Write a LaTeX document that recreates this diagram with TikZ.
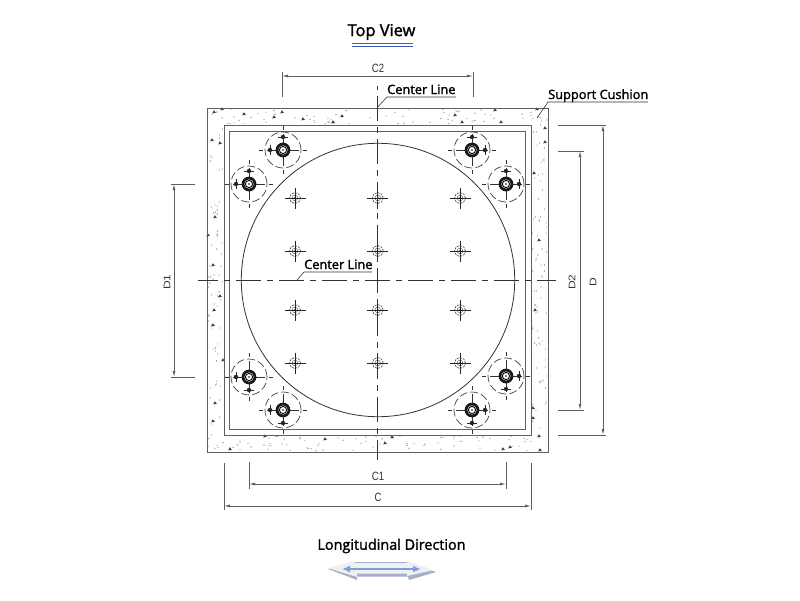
\documentclass[tikz,border=0pt]{standalone}
\usepackage{fontspec}
\setmainfont[FakeBold=1.6]{Open Sans}
\newfontfamily\dimfont{Liberation Sans}
\usetikzlibrary{arrows.meta}
\definecolor{linegrey}{RGB}{95,95,95}
\definecolor{arrowblue}{RGB}{120,160,225}
\definecolor{arrowshade}{RGB}{165,175,205}
\definecolor{arrowface}{RGB}{240,240,240}
\definecolor{rulerblue}{RGB}{60,90,190}
\tikzset{
	wall/.style={draw=linegrey,line width=1pt},
	centerline/.style={draw=black!80,line width=0.7pt,dash pattern=on 25pt off 6pt on 6pt off 6pt},
	dimline/.style={draw=linegrey,line width=0.8pt,{Latex[length=6pt,width=3pt]}-{Latex[length=6pt,width=3pt]}},
	extline/.style={draw=linegrey,line width=1pt},
	leader/.style={draw=black!80,line width=0.6pt},
	dimlabel/.style={font=\dimfont\fontsize{12}{12}\selectfont,xscale=0.8,text=black!80,inner sep=0pt},
	callout/.style={font=\fontsize{12.8}{13}\selectfont,text=black,inner sep=0pt,anchor=base west},
	heading/.style={font=\fontsize{14.4}{15}\selectfont,text=black,inner sep=0pt},
	holedash/.style={draw=black!75,line width=0.7pt,dash pattern=on 8pt off 3pt}
}
% anchor bolt in the corner of the plate, #1 #2 centre, #3 #4 side of the small studs
\newcommand{\anchorbolt}[4]{
	\draw[holedash] (#1,#2) circle (18pt);
	\draw[black!80,line width=0.6pt] (#1-24,#2) -- (#1-20,#2) (#1-16,#2) -- (#1+16,#2) (#1+20,#2) -- (#1+24,#2)
		(#1,#2-24) -- (#1,#2-20) (#1,#2-16) -- (#1,#2+16) (#1,#2+20) -- (#1,#2+24);
	\fill[black!85] (#1+#3*13,#2) circle (2.2pt) (#1,#2+#4*13) circle (2.2pt);
	\draw[black!85,line width=0.6pt] (#1+#3*13,#2-5) -- (#1+#3*13,#2+5) (#1-5,#2+#4*13) -- (#1+5,#2+#4*13);
	\fill[black!90] (#1,#2) circle (7.4pt);
	\fill[white] (#1,#2) circle (4.6pt);
	\draw[black,line width=0.9pt] (#1,#2) circle (3.6pt);
	\fill[black] (#1,#2) circle (0.8pt);
}
% small stud on the circular plate
\newcommand{\platestud}[2]{
	\draw[black!75,line width=0.6pt,dash pattern=on 2.2pt off 1pt] (#1,#2) circle (5.5pt);
	\draw[black!65,line width=0.5pt] (#1,#2) circle (2.8pt);
	\draw[black!85,line width=0.6pt] (#1-10.5,#2) -- (#1+10.5,#2) (#1,#2-10.5) -- (#1,#2+10.5);
	\fill[black] (#1,#2) circle (0.8pt);
}
\begin{document}
\begin{tikzpicture}[x=1pt,y=-1pt]
	\useasboundingbox (0,0) rectangle (800,600);
	\fill[white] (0,0) rectangle (800,600);
	\pgfmathsetseed{41}
	%concrete speckle
	\foreach \i in {1,...,300}{
		\pgfmathsetmacro{\spos}{random(0,1352)}
		\pgfmathsetmacro{\sdep}{rnd*15+1}
		\pgfmathsetmacro{\sx}{\spos<341 ? 207+\spos : (\spos<682 ? 531+\sdep : (\spos<1023 ? 207+\spos-682 : 207+\sdep))}
		\pgfmathsetmacro{\sy}{\spos<341 ? 108+\sdep : (\spos<682 ? 108+\spos-341 : (\spos<1023 ? 435+\sdep : 108+\spos-1023))}
		\fill[black!60] (\sx,\sy) circle (0.55pt);
	}
	%concrete aggregate
	\foreach \ax/\ay in {214/112,222/109,244/114,274/117,282/112,303/119,333/122,342/116,
		455/115,462/122,501/122,495/110,537/109,545/128,545/142,534/173,533/408,533/418,
		539/436,540/450,510/447,503/449,265/436,325/439,392/437,385/443,230/449,215/403,
		213/421,223/360,212/140,220/143,215/217,208/235,213/265,220/296,214/310,213/325,
		535/310,539/240}{
		\fill[black!75] (\ax-1.8,\ay+1.4) -- (\ax+1.8,\ay+0.8) -- (\ax-0.2,\ay-1.8) -- cycle;
	}
	%slab, cushion, plate
	\draw[wall] (207,108) rectangle (548,452);
	\draw[wall] (224,125) rectangle (531,435);
	\draw[wall] (229.5,131) rectangle (525,429);
	\draw[black!80,line width=0.8pt] (378,280) circle (136.7pt);
	%plate studs
	\foreach \sy in {198,251,310,363}{
		\foreach \sx in {295,377.7,460}{
			\platestud{\sx}{\sy}
		}
	}
	%center lines
	\draw[centerline,dash phase=33pt] (377.7,86) -- (377.7,460);
	\draw[centerline,dash phase=5pt] (198,280) -- (556,280);
	%anchor bolts
	\anchorbolt{283}{150}{-1}{-1}
	\anchorbolt{249}{184}{-1}{-1}
	\anchorbolt{472}{150}{1}{-1}
	\anchorbolt{506}{184}{1}{-1}
	\anchorbolt{249}{377}{-1}{1}
	\anchorbolt{283}{410}{-1}{1}
	\anchorbolt{506}{376}{1}{1}
	\anchorbolt{472}{410}{1}{1}
	%dimension C2
	\coordinate (ctwoL) at (282,76);
	\coordinate (ctwoR) at (473,76);
	\draw[extline] (282,72) -- (282,97);
	\draw[extline] (473,72) -- (473,97);
	\draw[dimline] (ctwoL) -- (ctwoR);
	\node[dimlabel] (ctwolabel) at (378,68) {C2};
	%dimension C1
	\coordinate (coneL) at (249,484);
	\coordinate (coneR) at (506,484);
	\draw[extline] (249,462) -- (249,489);
	\draw[extline] (506,462) -- (506,489);
	\draw[dimline] (coneL) -- (coneR);
	\node[dimlabel] (conelabel) at (378,476) {C1};
	%dimension C
	\coordinate (cL) at (224,506);
	\coordinate (cR) at (531,506);
	\draw[extline] (224,463) -- (224,510);
	\draw[extline] (531,463) -- (531,510);
	\draw[dimline] (cL) -- (cR);
	\node[dimlabel] (clabel) at (378,497) {C};
	%dimension D1
	\coordinate (doneT) at (174,184);
	\coordinate (doneB) at (174,377);
	\draw[extline] (171,184) -- (195,184);
	\draw[extline] (171,377) -- (195,377);
	\draw[dimline] (doneT) -- (doneB);
	\node[dimlabel,rotate=90] (donelabel) at (167,282) {D1};
	%dimension D2
	\coordinate (dtwoT) at (580,151);
	\coordinate (dtwoB) at (580,410);
	\draw[extline] (558,151) -- (584,151);
	\draw[extline] (558,410) -- (584,410);
	\draw[dimline] (dtwoT) -- (dtwoB);
	\node[dimlabel,rotate=90] (dtwolabel) at (572,282) {D2};
	%dimension D
	\coordinate (dT) at (603,125);
	\coordinate (dB) at (603,435);
	\draw[extline] (558,125) -- (606,125);
	\draw[extline] (558,435) -- (606,435);
	\draw[dimline] (dT) -- (dB);
	\node[dimlabel,rotate=90] (dlabel) at (593,282) {D};
	%callouts
	\node[callout] (ctop) at (387,94) {Center Line};
	\draw[leader] (456,97) -- (387,97) -- (377.7,107);
	\node[callout] (cushion) at (548,99) {Support Cushion};
	\draw[leader] (648,102) -- (548,102) -- (537,118);
	\node[callout] (cmid) at (304,269) {Center Line};
	\draw[leader] (372,272) -- (304,272) -- (297,280);
	%title
	\node[heading,font=\fontsize{16.4}{17}\selectfont] (title) at (381.5,32) {Top View};
	\draw[rulerblue,line width=0.8pt] (352,43) -- (413,43) (352,46) -- (413,46);
	%direction
	\node[heading] (direction) at (391.5,546) {Longitudinal Direction};
	\fill[arrowshade] (328,569) -- (355,562) -- (407,562) -- (436,572) -- (409,580) -- (408,576.5) -- (357,576.5) -- (357,580) -- cycle;
	\fill[arrowface] (328,568) -- (355,561) -- (355,563) -- (407,563) -- (407,561) -- (434,570) -- (407,576) -- (407,573.5) -- (357,573.5) -- (357,577) -- cycle;
	\draw[arrowblue,line width=1.8pt,{Latex[length=8pt,width=7pt]}-{Latex[length=8pt,width=7pt]}] (342,569) -- (421,569);
\end{tikzpicture}
\end{document}
